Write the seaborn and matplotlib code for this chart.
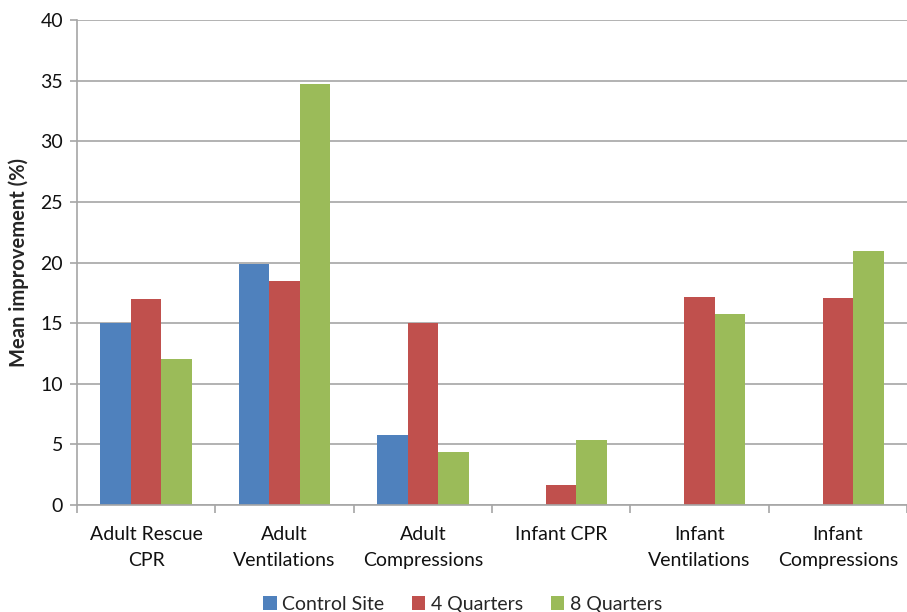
import matplotlib.pyplot as plt
import numpy as np
import pandas as pd
import seaborn as sns

# Chart data
categories = ["Adult Rescue\nCPR", "Adult\nVentilations", "Adult\nCompressions",
              "Infant CPR", "Infant\nVentilations", "Infant\nCompressions"]
series_names = ["Control Site", "4 Quarters", "8 Quarters"]
control_site = [15.0, 19.9, 5.8, np.nan, np.nan, np.nan]
four_quarters = [17.0, 18.5, 15.0, 1.65, 17.15, 17.05]
eight_quarters = [12.0, 34.7, 4.35, 5.35, 15.75, 20.95]
y_ticks = [0, 5, 10, 15, 20, 25, 30, 35, 40]

colors = ["#4F81BD", "#C0504D", "#9BBB59"]

# Build a long table for seaborn
rows = []
for name, values in zip(series_names, [control_site, four_quarters, eight_quarters]):
    for cat, v in zip(categories, values):
        rows.append({"Category": cat, "Series": name, "Value": v})
df = pd.DataFrame(rows)

sns.set_theme(style="white")
plt.rcParams["font.family"] = ["Lato", "DejaVu Sans"]

fig = plt.figure(figsize=(9.07, 6.12), dpi=100)
ax = fig.add_axes([0.0849, 0.175, 0.9151, 0.792])

sns.barplot(data=df, x="Category", y="Value", hue="Series", order=categories,
            hue_order=series_names, palette=colors, width=0.664, gap=0,
            saturation=1, edgecolor="none", ax=ax, legend=True)

grid_col = "#A6A6A6"
fs = 14
ax.set_ylim(0, 40)
ax.set_yticks(y_ticks)
ax.set_xlim(-0.5, 5.43)
ax.yaxis.grid(True, color=grid_col, linewidth=1.2)
ax.set_axisbelow(True)
for side in ["top", "right"]:
    ax.spines[side].set_visible(False)
for side in ["left", "bottom"]:
    ax.spines[side].set_color(grid_col)
    ax.spines[side].set_linewidth(1.2)

ax.tick_params(axis="y", which="major", left=True, length=5, width=1.2, color=grid_col,
               labelsize=fs, pad=5, labelcolor="#111111")
ax.tick_params(axis="x", which="major", bottom=False, labelsize=fs, pad=9,
               labelcolor="#111111")
ax.set_xticks(np.arange(-0.5, 5.6, 1), minor=True)
ax.tick_params(axis="x", which="minor", bottom=True, length=6, width=1.2, color=grid_col)
ax.set_xlabel("")
ax.set_ylabel("Mean improvement (%)", fontsize=14.5, fontweight="bold", labelpad=8)
for lab in ax.get_xticklabels():
    lab.set_linespacing(1.65)

handles, labels = ax.get_legend_handles_labels()
ax.get_legend().remove()
fig.legend(handles, labels, loc="lower center", bbox_to_anchor=(0.51, -0.03), ncol=3,
           frameon=False, fontsize=fs, handlelength=0.7, handleheight=0.7,
           handletextpad=0.3, columnspacing=1.4)

fig.savefig("out.png", dpi=100)
